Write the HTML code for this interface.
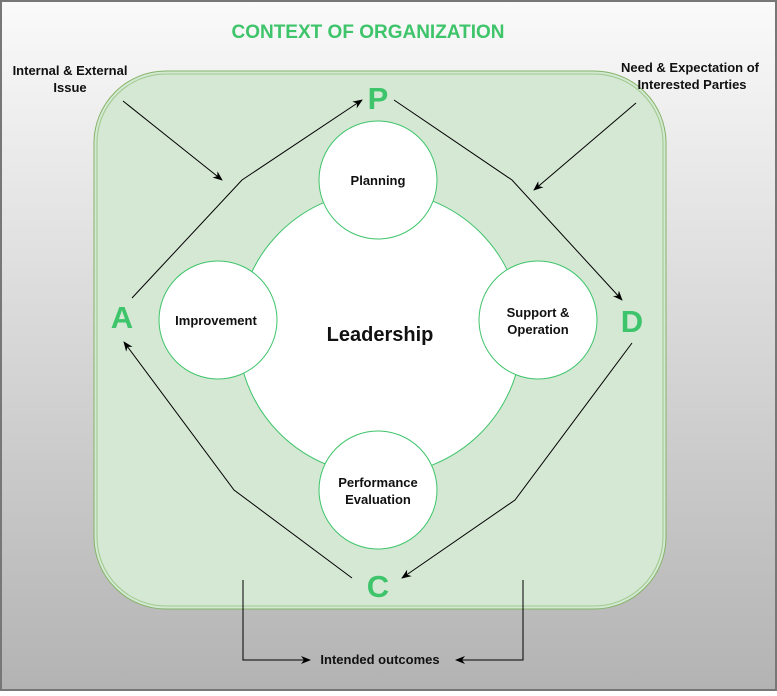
<!DOCTYPE html>
<html><head><style>
body{margin:0;width:777px;height:691px;overflow:hidden;font-family:"Liberation Sans",sans-serif}
</style></head><body>
<svg width="777" height="691" xmlns="http://www.w3.org/2000/svg" font-family="Liberation Sans, sans-serif">
<defs>
<linearGradient id="bg" x1="0" y1="0" x2="0" y2="1"><stop offset="0" stop-color="#fafafa"/><stop offset="1" stop-color="#b3b3b3"/></linearGradient>
<marker id="ar" markerWidth="10" markerHeight="10" refX="9" refY="5" orient="auto" markerUnits="userSpaceOnUse"><path d="M0,1 L10,5 L0,9 L3,5 Z" fill="#000"/></marker>
</defs>
<rect x="1" y="1" width="775" height="689" fill="url(#bg)" stroke="#777" stroke-width="2"/>
<text x="368" y="38" text-anchor="middle" font-size="19" font-weight="bold" fill="#3ec46a">CONTEXT OF ORGANIZATION</text>
<rect x="94" y="71" width="572" height="538" rx="72" fill="#d5e8d4" stroke="#82b366" stroke-width="1"/>
<rect x="97" y="74" width="566" height="532" rx="69" fill="none" stroke="#9cc98a" stroke-width="1"/>
<circle cx="380" cy="333" r="142" fill="#fff" stroke="#3ec46a"/>
<g fill="#fff" stroke="#3ec46a">
<circle cx="378" cy="180" r="59"/><circle cx="218" cy="320" r="59"/><circle cx="538" cy="320" r="59"/><circle cx="378" cy="490" r="59"/>
</g>
<g font-size="13" font-weight="bold" text-anchor="middle" fill="#111">
<text x="378" y="185">Planning</text>
<text x="216" y="325">Improvement</text>
<text x="538" y="317">Support &amp;</text><text x="538" y="334">Operation</text>
<text x="378" y="487">Performance</text><text x="378" y="504">Evaluation</text>
<text x="70" y="75">Internal &amp; External</text><text x="70" y="92">Issue</text>
<text x="690" y="72">Need &amp; Expectation of</text><text x="692" y="89">Interested Parties</text>
<text x="380" y="664">Intended outcomes</text>
</g>
<text x="380" y="341" text-anchor="middle" font-size="20" font-weight="bold" fill="#111">Leadership</text>
<g font-size="31" font-weight="bold" fill="#3ec46a" text-anchor="middle">
<text x="378" y="109">P</text><text x="122" y="328">A</text><text x="632" y="332">D</text><text x="378" y="597">C</text>
</g>
<g stroke="#000" stroke-width="1" fill="none" marker-end="url(#ar)">
<path d="M123,101 L222,180"/>
<path d="M636,103 L534,190"/>
<path d="M132,298 L242,180 L362,100"/>
<path d="M394,100 L512,180 L622,300"/>
<path d="M632,343 L515,500 L402,578"/>
<path d="M352,578 L234,490 L124,342"/>
<path d="M243,580 L243,660 L310,660"/>
<path d="M523,580 L523,660 L456,660"/>
</g>
</svg>
</body></html>
